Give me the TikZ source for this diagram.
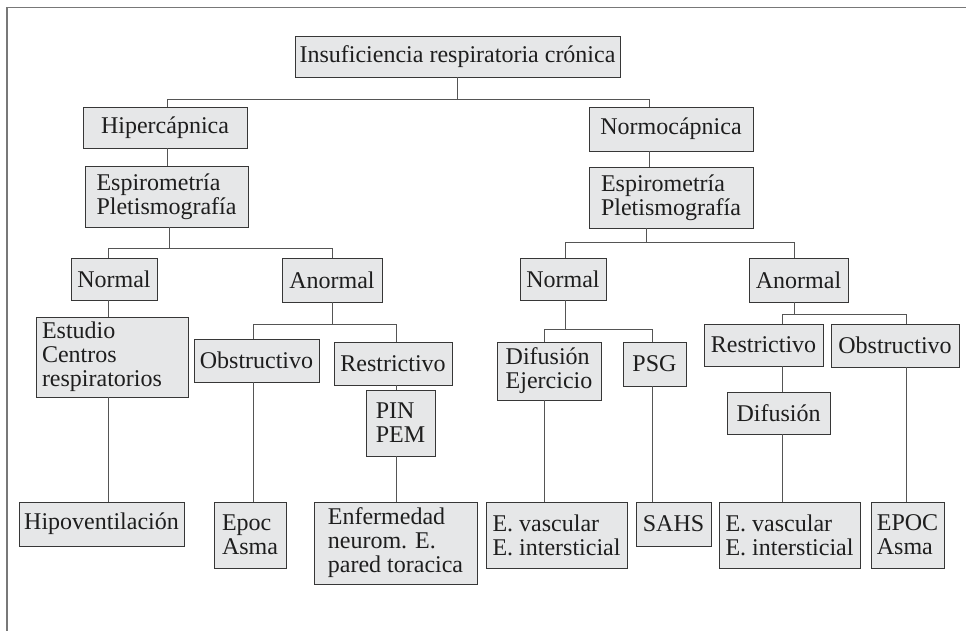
\documentclass[tikz,border=0pt]{standalone}
\usepackage{fontspec}
\setmainfont{Liberation Serif}
\usepackage{tikz}
\usetikzlibrary{calc}

\definecolor{boxFill}{RGB}{230,231,232}
\definecolor{boxLine}{RGB}{55,55,55}
\definecolor{linkGray}{RGB}{85,85,85}
\definecolor{frameGray}{RGB}{120,120,120}
\definecolor{txtDark}{RGB}{30,30,30}

\begin{document}
\begin{tikzpicture}[
    x=1pt, y=-1pt,
    every node/.style={font=\fontsize{24}{24}\selectfont, text=txtDark},
    box/.style={draw=boxLine, fill=boxFill, line width=0.9pt, inner sep=2pt, align=left},
    link/.style={draw=linkGray, line width=0.9pt},
]

\useasboundingbox (0,0) rectangle (966,631);

% outer frame (open to the right and bottom)
\draw[frameGray, line width=1.4pt] (7,640) -- (7,7.5) -- (975,7.5);

% ============================================================
% TOP
% ============================================================
\node[box, minimum width=325, minimum height=41] (root) at (457.5,56.5)
    {Insuficiencia respiratoria crónica};

% ============================================================
% LEFT BRANCH
% ============================================================
\node[box, minimum width=164, minimum height=41] (hipL) at (165,127.5) {Hipercápnica};
\node[box, minimum width=163, minimum height=61] (espL) at (166.5,196.5)
    {Espirometría\\Pletismografía};
\node[box, minimum width=86, minimum height=42] (norL) at (114,279) {Normal};
\node[box, minimum width=100, minimum height=44] (anoL) at (332,280) {Anormal};
\node[box, minimum width=152, minimum height=80, text width=140] (estudio) at (112,357)
    {Estudio\\Centros\\respiratorios};
\node[box, minimum width=165, minimum height=44] (hipov) at (101.5,524) {Hipoventilación};
\node[box, minimum width=125, minimum height=43] (obsL) at (256.5,360.5) {Obstructivo};
\node[box, minimum width=118, minimum height=43] (resL) at (393,363.5) {Restrictivo};
\node[box, minimum width=69, minimum height=66] (pin) at (400.5,423) {PIN\\PEM};
\node[box, minimum width=72, minimum height=66] (epocL) at (250,535) {Epoc\\Asma};
\node[box, minimum width=163, minimum height=82] (enferm) at (395.5,543)
    {Enfermedad\\neurom. E.\\pared toracica};

% ============================================================
% RIGHT BRANCH
% ============================================================
\node[box, minimum width=164, minimum height=44] (normo) at (671,129) {Normocápnica};
\node[box, minimum width=164, minimum height=61] (espR) at (671,197.5)
    {Espirometría\\Pletismografía};
\node[box, minimum width=86, minimum height=42] (norR) at (563,279) {Normal};
\node[box, minimum width=99, minimum height=44] (anoR) at (798.5,280) {Anormal};
\node[box, minimum width=104, minimum height=58] (difej) at (549,371) {Difusión\\Ejercicio};
\node[box, minimum width=63, minimum height=44] (psg) at (654.5,364) {PSG};
\node[box, minimum width=141, minimum height=66] (evascL) at (556.5,535)
    {E. vascular\\E. intersticial};
\node[box, minimum width=75, minimum height=44] (sahs) at (673.5,524) {SAHS};
\node[box, minimum width=119, minimum height=42] (resR) at (763.5,345) {Restrictivo};
\node[box, minimum width=128, minimum height=43] (obsR) at (895,345.5) {Obstructivo};
\node[box, minimum width=103, minimum height=42] (difu) at (778.5,413) {Difusión};
\node[box, minimum width=141, minimum height=66] (evascR) at (789.5,535)
    {E. vascular\\E. intersticial};
\node[box, minimum width=73, minimum height=66] (epocR) at (907.5,535) {EPOC\\Asma};

% ============================================================
% CONNECTORS
% ============================================================
% root
\draw[link] (root.south) -- ++(0,22) -| ([xshift=2pt]hipL.north);
\draw[link] (root.south) -- ++(0,22) -| ([xshift=-22pt]normo.north);

% hipercapnica side
\draw[link] ([xshift=2pt]hipL.south) -- ([xshift=2pt]hipL.south |- espL.north);
\draw[link] ([xshift=3pt]espL.south) -- ++(0,21) -| ([xshift=-6pt]norL.north);
\draw[link] ([xshift=3pt]espL.south) -- ++(0,21) -| (anoL.north);
\draw[link] ([xshift=-6pt]norL.south) -- ([xshift=-6pt]norL.south |- estudio.north);
\draw[link] ([xshift=-4pt]estudio.south) -- ([xshift=-4pt]estudio.south |- hipov.north);
\draw[link] (anoL.south) -- ++(0,22) -| ([xshift=-3.5pt]obsL.north);
\draw[link] (anoL.south) -- ++(0,22) -| ([xshift=3pt]resL.north);
\draw[link] ([xshift=-3.5pt]obsL.south) -- ([xshift=-3.5pt]obsL.south |- epocL.north);
\draw[link] ([xshift=3pt]resL.south) -- ([xshift=3pt]resL.south |- pin.north);
\draw[link] ([xshift=-4.5pt]pin.south) -- ([xshift=-4.5pt]pin.south |- enferm.north);

% normocapnica side
\draw[link] ([xshift=-22pt]normo.south) -- ([xshift=-22pt]normo.south |- espR.north);
\draw[link] ([xshift=-25pt]espR.south) -- ++(0,14) -| ([xshift=2pt]norR.north);
\draw[link] ([xshift=-25pt]espR.south) -- ++(0,14) -| ([xshift=-4.5pt]anoR.north);
\draw[link] ([xshift=2pt]norR.south) -- ++(0,29) -| ([xshift=-5pt]difej.north);
\draw[link] ([xshift=2pt]norR.south) -- ++(0,29) -| ([xshift=-2.5pt]psg.north);
\draw[link] ([xshift=-5pt]difej.south) -- ([xshift=-5pt]difej.south |- evascL.north);
\draw[link] ([xshift=-2.5pt]psg.south) -- ([xshift=-2.5pt]psg.south |- sahs.north);
\draw[link] ([xshift=-4.5pt]anoR.south) -- ++(0,12) -| ([xshift=18.5pt]resR.north);
\draw[link] ([xshift=-4.5pt]anoR.south) -- ++(0,12) -| ([xshift=11pt]obsR.north);
\draw[link] ([xshift=18.5pt]resR.south) -- ([xshift=18.5pt]resR.south |- difu.north);
\draw[link] ([xshift=3.5pt]difu.south) -- ([xshift=3.5pt]difu.south |- evascR.north);
\draw[link] ([xshift=11pt]obsR.south) -- ([xshift=11pt]obsR.south |- epocR.north);

\end{tikzpicture}
\end{document}
